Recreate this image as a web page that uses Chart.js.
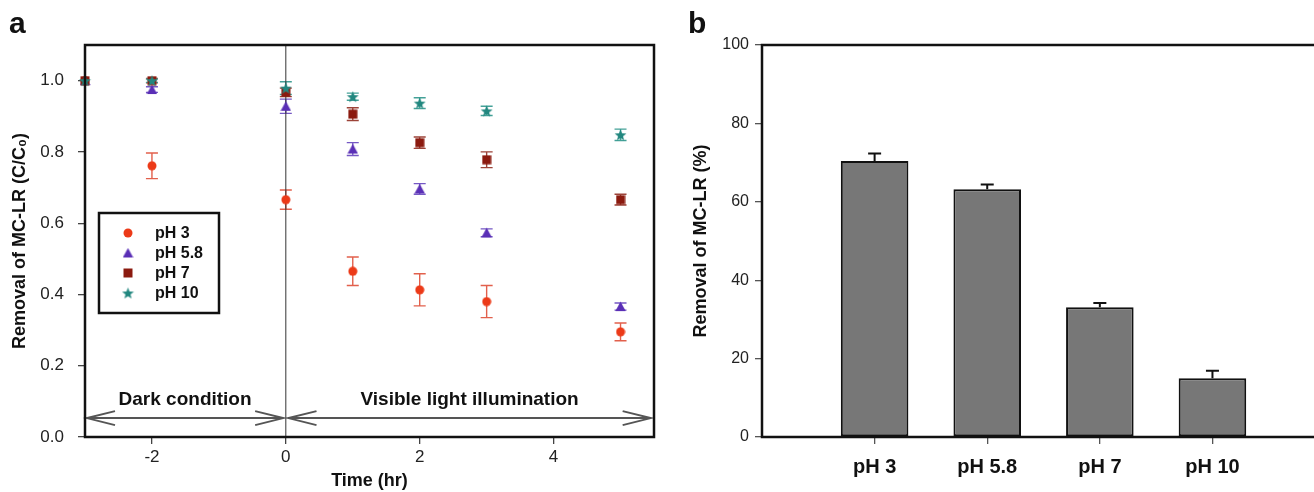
<!DOCTYPE html>
<html>
<head>
<meta charset="utf-8">
<script src="https://cdn.jsdelivr.net/npm/chart.js@4/dist/chart.umd.min.js"></script>
<style>
  html, body { margin: 0; padding: 0; background: #ffffff; overflow: hidden; }
  #wrap { position: relative; width: 1314px; height: 492px; overflow: hidden; }
  #panelA { position: absolute; left: 0; top: 0; }
  #panelB { position: absolute; left: 660px; top: 0; }
</style>
</head>
<body>
<div id="wrap">
  <canvas id="panelA" width="660" height="492"></canvas>
  <canvas id="panelB" width="660" height="492"></canvas>
</div>
<script>
// ---------- DATA (panel a)
var timePoints  = [-3, -2, 0, 1, 2, 3, 5];
var seriesNames = ['pH 3', 'pH 5.8', 'pH 7', 'pH 10'];
var ph3Values   = [1.0, 0.761, 0.666, 0.465, 0.413, 0.380, 0.295];
var ph3Errors   = [0, 0.036, 0.027, 0.040, 0.045, 0.045, 0.025];
var ph58Values  = [1.0, 0.975, 0.928, 0.808, 0.696, 0.573, 0.366];
var ph58Errors  = [0, 0.008, 0.020, 0.018, 0.015, 0.011, 0.010];
var ph7Values   = [1.0, 1.0, 0.967, 0.906, 0.826, 0.778, 0.666];
var ph7Errors   = [0, 0.006, 0.012, 0.018, 0.016, 0.022, 0.015];
var ph10Values  = [1.0, 1.0, 0.979, 0.955, 0.937, 0.915, 0.848];
var ph10Errors  = [0, 0.005, 0.018, 0.010, 0.015, 0.013, 0.016];
var timeTicks   = [-2, 0, 2, 4];
var ratioTicks  = [0, 0.2, 0.4, 0.6, 0.8, 1.0];

// ---------- DATA (panel b)
var barCategories = ['pH 3', 'pH 5.8', 'pH 7', 'pH 10'];
var barValues     = [70.4, 63.2, 33.1, 15.0];
var barErrors     = [1.9, 1.2, 1.1, 1.9];
var percentTicks  = [0, 20, 40, 60, 80, 100];

var FONT = "'Liberation Sans', Arial, Helvetica, sans-serif";

var seriesValues = [ph3Values, ph58Values, ph7Values, ph10Values];
var seriesErrors = [ph3Errors, ph58Errors, ph7Errors, ph10Errors];
var seriesColors = ['#ec3a18', '#5a2fb6', '#8b1a0f', '#22877f'];
var errorColors  = ['#e2604c', '#7558c4', '#9c4338', '#44a198'];
var markerShapes = ['circle', 'triangle', 'square', 'star'];
var markerSizes  = [10, 11, 10, 13];

// marker pictures, used for points and for the legend
function makeMarker(shape, color, size){
    var c = document.createElement('canvas');
    c.width = size; c.height = size;
    var g = c.getContext('2d');
    var m = size / 2;
    g.fillStyle = color;
    g.beginPath();
    if (shape == 'circle'){
        g.arc(m, m, m - 0.5, 0, Math.PI * 2);
    } else if (shape == 'triangle'){
        g.moveTo(m, 0.5);
        g.lineTo(size - 0.3, size - 1);
        g.lineTo(0.3, size - 1);
        g.closePath();
    } else if (shape == 'square'){
        g.rect(0.5, 0.5, size - 1, size - 1);
    } else {
        for (var k = 0; k < 10; k++){
            var r = (k % 2 == 0) ? m - 0.3 : (m - 0.3) * 0.42;
            var a = -Math.PI / 2 + k * Math.PI / 5;
            var px = m + r * Math.cos(a), py = m + 0.6 + r * Math.sin(a);
            if (k == 0) g.moveTo(px, py); else g.lineTo(px, py);
        }
        g.closePath();
    }
    g.fill();
    return c;
}

// error bars for the scatter panel, drawn under the markers
var scatterErrorBars = {
    id: 'scatterErrorBars',
    beforeDatasetsDraw: function(chart){
        var ctx = chart.ctx, xs = chart.scales.x, ys = chart.scales.y;
        ctx.save();
        ctx.lineWidth = 1.4;
        chart.data.datasets.forEach(function(ds){
            ctx.strokeStyle = ds.errorColor;
            ds.data.forEach(function(p, i){
                var e = ds.errors[i];
                if (!e) return;
                var x = xs.getPixelForValue(p.x);
                var yTop = ys.getPixelForValue(p.y + e);
                var yBot = ys.getPixelForValue(p.y - e);
                ctx.beginPath();
                ctx.moveTo(x, yTop); ctx.lineTo(x, yBot);
                ctx.moveTo(x - 6, yTop); ctx.lineTo(x + 6, yTop);
                ctx.moveTo(x - 6, yBot); ctx.lineTo(x + 6, yBot);
                ctx.stroke();
            });
        });
        ctx.restore();
    }
};

function drawDoubleArrow(ctx, x1, x2, y){
    ctx.beginPath();
    ctx.moveTo(x1, y); ctx.lineTo(x2, y);
    ctx.moveTo(x1 + 28, y - 7); ctx.lineTo(x1, y); ctx.lineTo(x1 + 28, y + 7);
    ctx.moveTo(x2 - 28, y - 7); ctx.lineTo(x2, y); ctx.lineTo(x2 - 28, y + 7);
    ctx.stroke();
}

// box, divider, arrows, legend and letter for panel a
var panelADecor = {
    id: 'panelADecor',
    beforeDatasetsDraw: function(chart, args, opts){
        var ctx = chart.ctx, xs = chart.scales.x, ys = chart.scales.y, area = chart.chartArea;
        ctx.save();
        // divider at t = 0
        var x0 = xs.getPixelForValue(opts.dividerAt);
        ctx.strokeStyle = '#333';
        ctx.lineWidth = 1;
        ctx.beginPath(); ctx.moveTo(x0, area.top); ctx.lineTo(x0, area.bottom); ctx.stroke();
        // arrows and their texts
        ctx.strokeStyle = '#555';
        ctx.lineWidth = 2;
        ctx.fillStyle = '#111';
        ctx.font = 'bold 19px ' + FONT;
        ctx.textAlign = 'center';
        ctx.textBaseline = 'middle';
        opts.spans.forEach(function(s){
            var a = xs.getPixelForValue(s.from), b = xs.getPixelForValue(s.to);
            drawDoubleArrow(ctx, a, b, ys.getPixelForValue(opts.arrowAt));
            ctx.fillText(s.text, (a + b) / 2, ys.getPixelForValue(opts.textAt));
        });
        ctx.restore();
    },
    afterDraw: function(chart, args, opts){
        var ctx = chart.ctx, area = chart.chartArea;
        ctx.save();
        ctx.strokeStyle = '#111';
        ctx.lineWidth = 2.5;
        ctx.strokeRect(area.left, area.top, area.right - area.left, area.bottom - area.top);
        // legend
        var lg = opts.legend;
        ctx.strokeRect(lg.left, lg.top, lg.width, lg.height);
        ctx.font = 'bold 16px ' + FONT;
        ctx.fillStyle = '#111';
        ctx.textAlign = 'left';
        ctx.textBaseline = 'middle';
        chart.data.datasets.forEach(function(ds, i){
            var y = lg.top + lg.firstRow + i * lg.rowGap;
            var img = ds.pointStyle;
            ctx.drawImage(img, lg.markerX - img.width / 2, y - img.height / 2);
            ctx.fillText(ds.label, lg.textX, y + 1);
        });
        // panel letter
        ctx.font = 'bold 30px ' + FONT;
        ctx.textBaseline = 'alphabetic';
        ctx.fillText(opts.letter, opts.letterX, opts.letterY);
        ctx.restore();
    }
};

var scatterSets = seriesNames.map(function(name, s){
    return {
        label: name,
        data: timePoints.map(function(t, i){ return {x: t, y: seriesValues[s][i]}; }),
        errors: seriesErrors[s],
        errorColor: errorColors[s],
        pointStyle: makeMarker(markerShapes[s], seriesColors[s], markerSizes[s]),
        pointRadius: 5,
        pointHoverRadius: 5,
        backgroundColor: seriesColors[s],
        borderColor: seriesColors[s],
        showLine: false,
        clip: false,
        order: seriesNames.length - s
    };
});

var tickGrid = { drawOnChartArea: false, drawTicks: true, tickLength: 7, color: '#444', lineWidth: 1.3 };

var chartA = new Chart(document.getElementById('panelA').getContext('2d'), {
    type: 'scatter',
    data: { datasets: scatterSets },
    options: {
        responsive: false,
        animation: false,
        events: [],
        layout: { padding: { top: 45, right: 6, left: 0, bottom: 0 } },
        plugins: {
            legend: { display: false },
            tooltip: { enabled: false },
            panelADecor: {
                dividerAt: 0,
                arrowAt: 0.053,
                textAt: 0.104,
                spans: [
                    { from: -2.97, to: -0.04, text: 'Dark condition' },
                    { from: 0.04, to: 5.45, text: 'Visible light illumination' }
                ],
                legend: { left: 99, top: 213, width: 120, height: 100, firstRow: 20, rowGap: 20, markerX: 128, textX: 155 },
                letter: 'a', letterX: 9, letterY: 33
            }
        },
        scales: {
            x: {
                type: 'linear', min: -3, max: 5.5, bounds: 'data',
                afterBuildTicks: function(s){ s.ticks = timeTicks.map(function(v){ return {value: v}; }); },
                afterFit: function(s){ s.height = 55; },
                grid: tickGrid,
                border: { display: false },
                ticks: { font: { family: FONT, size: 17 }, color: '#222', padding: 3, maxRotation: 0,
                         callback: function(v){ return String(v); } },
                title: { display: true, text: 'Time (hr)', color: '#111',
                         font: { family: FONT, size: 18, weight: 'bold' }, padding: { top: 0, bottom: 0 } }
            },
            y: {
                type: 'linear', min: 0, max: 1.1, bounds: 'data',
                afterBuildTicks: function(s){ s.ticks = ratioTicks.map(function(v){ return {value: v}; }); },
                afterFit: function(s){ s.width = 85; },
                grid: tickGrid,
                border: { display: false },
                ticks: { font: { family: FONT, size: 17 }, color: '#222', padding: 14,
                         callback: function(v){ return Number(v).toFixed(1); } },
                title: { display: true, text: 'Removal of MC-LR (C/C\u2080)', color: '#111',
                         font: { family: FONT, size: 18, weight: 'bold' }, padding: { top: 9, bottom: 0 } }
            }
        }
    },
    plugins: [scatterErrorBars, panelADecor]
});

//---------- PANEL B

var barErrorBars = {
    id: 'barErrorBars',
    afterDatasetsDraw: function(chart){
        var ctx = chart.ctx, xs = chart.scales.x, ys = chart.scales.y;
        ctx.save();
        ctx.strokeStyle = '#111';
        ctx.lineWidth = 2;
        barValues.forEach(function(v, i){
            var x = xs.getPixelForValue(i + 1);
            var yTop = ys.getPixelForValue(v + barErrors[i]);
            var yBar = ys.getPixelForValue(v);
            ctx.beginPath();
            ctx.moveTo(x, yBar); ctx.lineTo(x, yTop);
            ctx.moveTo(x - 6.5, yTop); ctx.lineTo(x + 6.5, yTop);
            ctx.stroke();
        });
        ctx.restore();
    }
};

var panelBDecor = {
    id: 'panelBDecor',
    afterDraw: function(chart, args, opts){
        var ctx = chart.ctx, area = chart.chartArea;
        ctx.save();
        ctx.strokeStyle = '#111';
        ctx.lineWidth = 2.5;
        ctx.beginPath();
        ctx.moveTo(chart.width, area.top);
        ctx.lineTo(area.left, area.top);
        ctx.lineTo(area.left, area.bottom);
        ctx.lineTo(chart.width, area.bottom);
        ctx.stroke();
        ctx.fillStyle = '#111';
        ctx.font = 'bold 30px ' + FONT;
        ctx.fillText(opts.letter, opts.letterX, opts.letterY);
        ctx.restore();
    }
};

var chartB = new Chart(document.getElementById('panelB').getContext('2d'), {
    type: 'bar',
    data: {
        datasets: [{
            label: 'Removal of MC-LR (%)',
            data: barCategories.map(function(c, i){ return {x: i + 1, y: barValues[i]}; }),
            backgroundColor: '#777777',
            borderColor: '#111111',
            borderWidth: 2,
            borderSkipped: false,
            barPercentage: 0.6,
            categoryPercentage: 1.0
        }]
    },
    options: {
        responsive: false,
        animation: false,
        events: [],
        layout: { padding: { top: 45, right: 0, left: 0, bottom: 0 } },
        plugins: {
            legend: { display: false },
            tooltip: { enabled: false },
            panelBDecor: { letter: 'b', letterX: 28, letterY: 33 }
        },
        scales: {
            x: {
                type: 'linear', min: 0, max: 4.955, bounds: 'data', offset: false,
                afterBuildTicks: function(s){ s.ticks = barCategories.map(function(c, i){ return {value: i + 1}; }); },
                afterFit: function(s){ s.height = 55; },
                grid: { drawOnChartArea: false, drawTicks: true, tickLength: 7, color: '#555', lineWidth: 1.3, offset: false },
                border: { display: false },
                ticks: { font: { family: FONT, size: 20, weight: 'bold' }, color: '#111', padding: 11, maxRotation: 0,
                         callback: function(v){ return barCategories[v - 1]; } }
            },
            y: {
                type: 'linear', min: 0, max: 100, bounds: 'data', beginAtZero: true,
                afterBuildTicks: function(s){ s.ticks = percentTicks.map(function(v){ return {value: v}; }); },
                afterFit: function(s){ s.width = 102; },
                grid: { drawOnChartArea: false, drawTicks: true, tickLength: 7, color: '#555', lineWidth: 1.3 },
                border: { display: false },
                ticks: { font: { family: FONT, size: 16 }, color: '#222', padding: 6 },
                title: { display: true, text: 'Removal of MC-LR (%)', color: '#111',
                         font: { family: FONT, size: 18, weight: 'bold' }, padding: { top: 30, bottom: 0 } }
            }
        }
    },
    plugins: [barErrorBars, panelBDecor]
});
</script>
</body>
</html>
